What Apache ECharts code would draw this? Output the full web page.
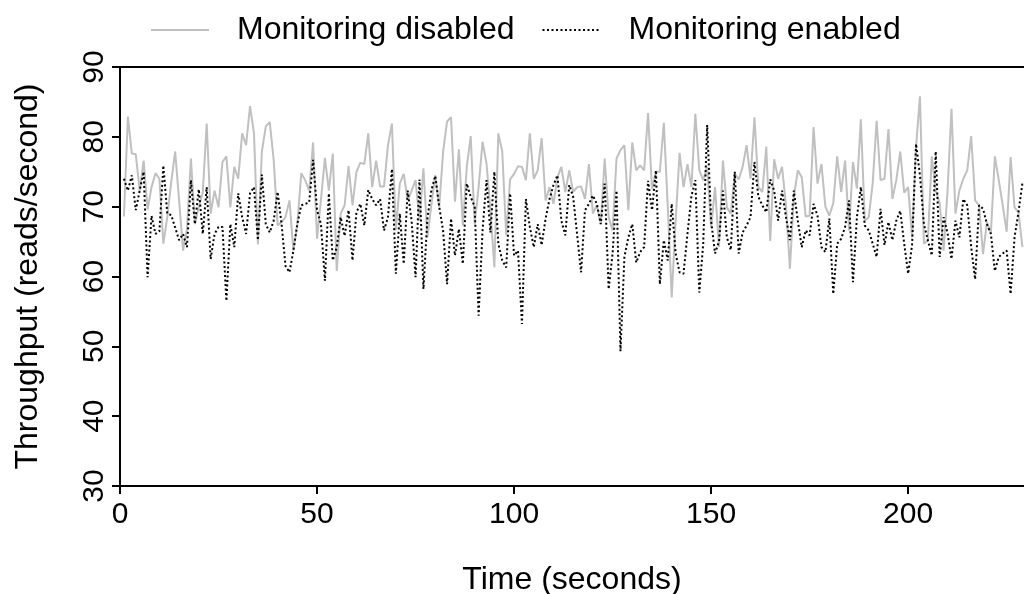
<!DOCTYPE html>
<html><head><meta charset="utf-8">
<script src="https://cdn.jsdelivr.net/npm/echarts@6/dist/echarts.min.js"></script>
<style>html,body{margin:0;padding:0;background:#fff}#c{width:1024px;height:594px}</style>
</head><body><div id="c"></div>
<script>
const seriesNames = ['Monitoring disabled', 'Monitoring enabled'];
const firstSecond = 1;
const disabled = [68.6,82.9,77.6,77.5,72.3,76.6,69.6,72.8,74.8,74.0,64.7,68.5,73.5,77.9,70.9,63.7,66.8,76.9,67.5,70.0,
72.0,81.9,69.0,72.3,69.9,76.4,77.2,69.9,75.7,74.0,80.5,78.8,84.4,80.5,64.6,77.9,81.5,82.1,76.7,67.3,
67.8,68.5,70.9,63.7,67.5,74.8,73.8,72.3,79.2,65.4,71.0,77.0,72.3,77.6,60.8,69.0,70.2,75.8,70.2,75.0,
76.3,76.1,80.5,72.8,76.6,72.9,72.9,78.8,81.9,66.6,73.3,74.7,70.9,72.3,73.8,68.0,75.5,65.6,70.2,74.5,
69.9,77.9,82.2,82.8,70.7,78.2,67.3,75.7,80.1,67.5,72.8,79.3,76.2,69.5,61.3,80.5,77.9,65.9,73.9,74.7,
75.8,75.7,73.8,80.5,74.0,75.2,79.8,70.9,72.8,70.4,74.2,75.7,72.1,75.2,72.1,72.8,72.9,71.1,76.1,69.0,
70.2,67.5,76.9,68.5,66.6,76.9,78.1,78.8,69.5,79.2,75.2,75.9,75.2,83.4,72.5,75.0,75.0,82.0,70.0,57.0,
68.0,77.7,72.8,76.1,72.8,83.3,75.2,73.8,75.7,67.0,72.8,64.2,76.6,69.9,69.0,74.7,73.9,75.7,78.8,74.0,
82.8,72.8,72.1,78.6,65.1,76.8,74.0,75.7,70.2,61.1,71.4,75.2,74.2,68.6,68.7,81.4,73.3,76.1,70.0,68.7,
70.5,77.2,72.1,76.6,66.6,76.4,72.6,82.5,68.0,68.5,73.3,82.3,73.8,74.0,81.1,71.1,73.8,77.9,72.0,72.8,
65.6,78.5,85.8,64.7,65.2,77.2,72.3,70.5,63.7,72.3,84.0,69.0,72.3,74.0,75.2,80.1,70.9,70.2,63.2,67.8,
66.2,77.2,73.8,70.2,66.4,77.1,69.9,69.2,64.2];
const enabled = [74.0,72.3,74.5,69.5,72.3,75.0,59.9,68.7,66.1,66.5,75.9,69.0,68.8,67.0,65.2,66.1,64.2,73.8,67.5,72.5,
66.1,72.8,62.5,66.1,67.1,67.1,56.5,67.5,64.2,71.9,68.5,66.1,71.9,72.8,65.2,74.6,67.5,66.3,68.0,72.1,
67.5,61.5,60.6,63.7,67.5,70.2,70.4,70.6,76.7,69.5,67.5,59.4,71.9,62.3,64.2,68.5,65.8,69.5,62.3,69.2,
70.4,67.3,72.4,71.1,70.2,71.1,66.6,68.5,75.4,60.4,69.0,61.8,72.3,68.0,59.9,73.9,58.2,68.3,72.3,74.4,
70.0,66.5,58.9,68.3,63.0,66.8,61.8,73.3,71.4,70.0,54.4,66.6,73.8,66.3,75.0,64.7,62.3,61.3,71.9,63.0,
63.7,53.2,71.1,67.1,64.2,67.5,64.5,68.3,71.1,73.1,74.5,68.0,65.9,73.1,71.4,66.0,60.6,69.5,70.4,71.6,
70.4,67.5,73.3,58.2,63.3,72.3,49.3,62.8,65.6,67.5,62.0,63.5,64.2,73.7,69.5,75.2,58.9,65.2,62.3,70.4,
63.3,60.6,60.4,66.1,71.5,73.8,57.7,64.7,81.7,68.0,63.3,65.0,72.3,65.6,63.8,75.0,63.3,66.3,67.3,68.5,
76.4,71.4,70.2,69.2,73.9,72.3,68.0,72.3,68.5,65.2,72.3,68.0,64.2,66.6,65.9,70.4,68.7,64.2,63.5,68.3,
57.5,64.7,65.4,67.1,70.9,59.2,68.5,72.8,67.3,66.6,64.7,62.8,69.7,64.5,67.8,65.2,68.0,69.4,64.7,60.4,
64.5,79.0,74.5,67.5,65.2,63.0,77.9,62.8,68.5,66.2,62.5,68.0,65.6,71.1,70.2,64.2,59.6,70.2,69.7,67.5,
66.1,60.8,62.8,63.3,63.7,57.5,65.6,69.2,73.4];
const xTicks = [0, 50, 100, 150, 200];
const yTicks = [30, 40, 50, 60, 70, 80, 90];

const toPairs = arr => arr.map((v, i) => [firstSecond + i, v]);
const FONT = 'Liberation Sans, Arial, Helvetica, sans-serif';
const chart = echarts.init(document.getElementById('c'), null, {renderer: 'canvas'});
chart.setOption({
  animation: false,
  backgroundColor: '#fff',
  textStyle: {fontFamily: FONT},
  legend: {
    left: 150, top: 14, padding: 0,
    itemWidth: 58, itemHeight: 2, itemGap: 27,
    itemStyle: {opacity: 0},
    textStyle: {fontSize: 32, color: '#000', fontFamily: FONT, padding: [0, 0, 0, 23]},
    data: seriesNames
  },
  grid: {left: 120, right: 0, top: 67, bottom: 108, containLabel: false, outerBoundsMode: 'none'},
  xAxis: [{
    type: 'value', min: 0, max: 229.4, interval: 50,
    name: 'Time (seconds)', nameLocation: 'middle', nameGap: 78,
    nameTextStyle: {fontSize: 32, color: '#000', fontFamily: FONT},
    axisLine: {show: true, lineStyle: {color: '#000', width: 2}},
    axisTick: {show: true, length: 8, lineStyle: {color: '#000', width: 2}, customValues: xTicks},
    axisLabel: {fontSize: 30, color: '#000', margin: 14, fontFamily: FONT, customValues: xTicks},
    splitLine: {show: false}
  }, {
    type: 'value', position: 'top', min: 0, max: 229.4,
    axisLine: {show: true, lineStyle: {color: '#000', width: 2}},
    axisTick: {show: false}, axisLabel: {show: false}, splitLine: {show: false}
  }],
  yAxis: {
    type: 'value', min: 30, max: 90, interval: 10,
    name: 'Throughput (reads/second)', nameLocation: 'middle', nameGap: 76,
    nameTextStyle: {fontSize: 32, color: '#000', fontFamily: FONT},
    axisLine: {show: true, lineStyle: {color: '#000', width: 2}},
    axisTick: {show: true, length: 8, lineStyle: {color: '#000', width: 2}},
    axisLabel: {fontSize: 30, color: '#000', margin: 10, rotate: 90, fontFamily: FONT, customValues: yTicks},
    splitLine: {show: false}
  },
  series: [{
    name: seriesNames[0], type: 'line', xAxisIndex: 0, symbol: 'none', showSymbol: false,
    data: toPairs(disabled),
    lineStyle: {color: '#c0c0c0', width: 2}, itemStyle: {color: '#c0c0c0'}
  }, {
    name: seriesNames[1], type: 'line', xAxisIndex: 0, symbol: 'none', showSymbol: false,
    data: toPairs(enabled),
    lineStyle: {color: '#000', width: 2, type: [2, 2.5]}, itemStyle: {color: '#000'}
  }]
});
</script></body></html>
